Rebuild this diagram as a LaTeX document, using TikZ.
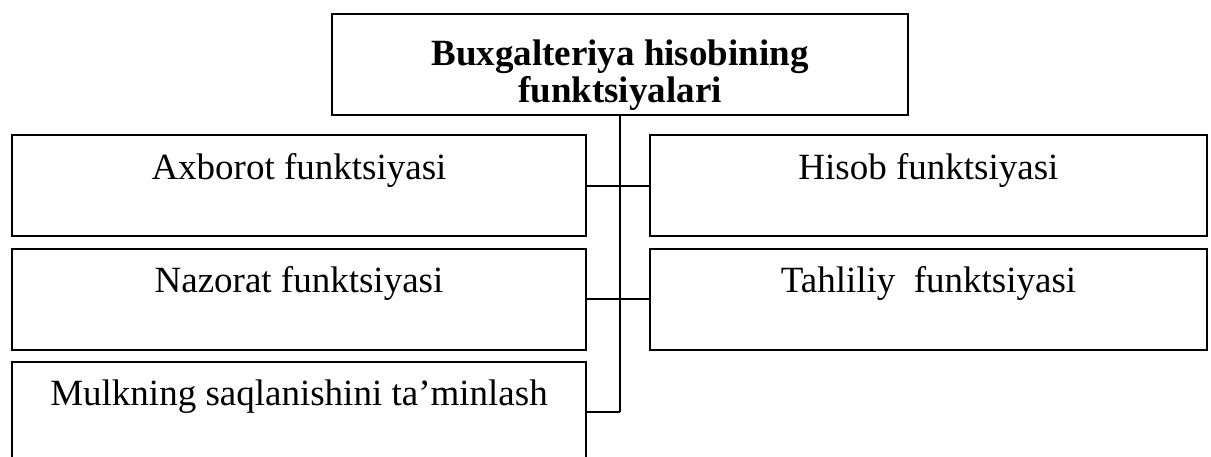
\documentclass[tikz,border=0pt]{standalone}
\usepackage{fontspec}
\setmainfont{Liberation Serif}
\usetikzlibrary{positioning}
\tikzset{
  fbox/.style={draw, line width=1pt, inner sep=0pt, font=\fontsize{18.5}{18.5}\selectfont,
    text height=22pt, text depth=28.5pt},
  lbox/.style={fbox, minimum width=287pt},
  rbox/.style={fbox, minimum width=278.5pt},
  tbox/.style={draw, line width=1pt, inner sep=0pt, align=center, minimum width=288pt,
    font=\bfseries\fontsize{18.5}{18.5}\selectfont, text height=44pt, text depth=6.5pt},
  link/.style={line width=1pt},
}
\begin{document}
\begin{tikzpicture}[x=0.5pt,y=-0.5pt]
	\useasboundingbox (0,0) rectangle (1211,456);
	\node[tbox] (title) at (620,64.5) {Buxgalteriya hisobining\\funktsiyalari};
	\node[lbox] (axborot) at (299,185.5) {Axborot funktsiyasi};
	\node[lbox] (nazorat) at (299,299) {Nazorat funktsiyasi};
	\node[lbox] (mulk) at (299,412) {Mulkning saqlanishini ta’minlash};
	\node[rbox] (hisob) at (928.5,185.5) {Hisob funktsiyasi};
	\node[rbox] (tahlil) at (928.5,299) {Tahliliy~ funktsiyasi};
	% connectors
	\coordinate (end) at (mulk.east -| title.south);
	\draw[link] (title.south) -- (end);
	\draw[link] (axborot.east) -- (hisob.west);
	\draw[link] (nazorat.east) -- (tahlil.west);
	\draw[link] (mulk.east) -- (end);
\end{tikzpicture}
\end{document}
